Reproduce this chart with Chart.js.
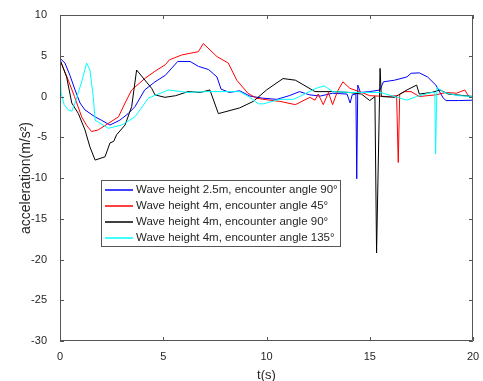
<!DOCTYPE html>
<html>
<head>
  <title>Acceleration vs time</title>
  <script src="https://cdn.jsdelivr.net/npm/chart.js"></script>
  <style>
    html, body { margin: 0; padding: 0; background: #fff; }
    #wrap { width: 483px; height: 381px; }
  </style>
</head>
<body>
<div id="wrap"><canvas id="accChart" width="483" height="381"></canvas></div>
<script>
  // values
  const seriesLabels = [
    'Wave height 2.5m, encounter angle 90°',
    'Wave height 4m, encounter angle 45°',
    'Wave height 4m, encounter angle 90°',
    'Wave height 4m, encounter angle 135°'
  ];
  const seriesColors = ['#0000ff', '#ff0000', '#000000', '#00ffff'];

  const blueT = [0, 0.24, 0.48, 0.73, 0.97, 1.21, 1.7, 2.0, 2.42, 2.9, 3.3, 3.63, 4.1, 4.6, 5.1, 5.7, 6.3, 6.7, 7.2, 7.6, 7.8, 8.2, 8.7, 9.2, 9.8, 10.5, 11.1, 11.6, 12.1, 12.6, 13.2, 13.9, 14.05, 14.15, 14.33, 14.37, 14.42, 14.55, 15.0, 15.5, 15.66, 16.2, 16.8, 17.0, 17.4, 17.8, 18.2, 18.56, 18.7, 19.3, 20];
  const blueV = [4.7, 4.1, 2.6, 0.8, -0.8, -1.65, -2.5, -2.9, -3.5, -2.9, -2.1, -1.25, 0.8, 1.8, 2.6, 4.3, 4.3, 3.7, 3.3, 2.4, 0.9, 0.5, 0.7, 0.05, -0.2, -0.35, 0.1, 0.6, 0.2, 0.05, 0.4, 0.3, -0.8, 0.2, 0.3, -10.1, 1.4, 0.5, 0.6, 0.8, 1.8, 2.0, 2.4, 2.85, 2.9, 2.4, 1.4, -0.2, -0.5, -0.5, -0.45];

  const redT = [0, 0.4, 0.7, 1.05, 1.3, 1.53, 1.85, 2.34, 2.83, 3.15, 3.47, 4.1, 4.6, 5.1, 5.3, 5.9, 6.3, 6.7, 6.94, 7.6, 8.15, 8.56, 9.1, 9.5, 10.0, 10.65, 11.4, 12.1, 12.35, 12.5, 12.75, 13.0, 13.2, 13.45, 13.7, 14.04, 14.5, 15.0, 15.8, 16.3, 16.38, 16.45, 16.7, 17.0, 17.4, 18.2, 18.7, 19.2, 19.6, 19.8, 20];
  const redV = [4.5, 2.0, 0.0, -2.5, -3.6, -4.3, -4.1, -3.3, -2.5, -0.8, 0.8, 2.2, 3.1, 3.9, 4.5, 5.1, 5.3, 5.5, 6.5, 4.9, 4.1, 2.0, 0.4, -0.2, -0.4, -0.6, -1.0, -0.1, -0.45, 0.3, -1.0, 0.5, -1.0, 0.7, 1.8, 1.0, 0.6, 0.1, 0.0, 0.1, -8.1, 0.3, 0.6, 0.6, 0.0, 0.2, 0.5, 0.4, 0.8, 0.0, 0.0];

  const blackT = [0, 0.32, 0.57, 0.89, 1.21, 1.45, 1.7, 2.18, 2.42, 2.6, 2.74, 3.15, 3.47, 3.71, 4.44, 4.6, 5.08, 5.6, 6.2, 6.8, 7.26, 7.67, 8.7, 9.36, 10.0, 10.8, 11.4, 12.35, 13.2, 14.0, 14.6, 15.0, 15.25, 15.33, 15.5, 15.56, 16.2, 16.8, 17.27, 17.4, 18.0, 18.4, 18.8, 20];
  const blackV = [4.5, 2.4, -0.8, -2.1, -4.1, -6.2, -7.8, -7.4, -5.7, -5.5, -4.7, -3.5, -1.25, 3.25, 1.0, 0.2, -0.1, 0.1, 0.6, 0.5, 0.8, -2.1, -1.4, -0.6, 0.8, 2.2, 2.0, 0.6, 0.6, 0.5, 0.3, -0.5, 0.0, -19.2, 3.45, 0.0, -0.1, 0.8, 1.4, 0.3, 0.5, 0.8, 0.3, 0.0];

  const cyanT = [0, 0.05, 0.2, 0.4, 0.57, 0.73, 1.05, 1.29, 1.45, 1.61, 1.7, 2.34, 2.99, 3.63, 4.28, 5.25, 6.2, 7.0, 8.0, 8.7, 9.2, 9.6, 9.85, 10.65, 11.3, 11.6, 12.4, 12.8, 13.2, 14.0, 15.5, 16.2, 16.8, 17.27, 18.0, 18.15, 18.19, 18.25, 18.6, 19.3, 20];
  const cyanV = [4.6, 0.5, -1.0, -1.65, -1.8, -0.8, 1.8, 4.1, 3.25, 0.0, -2.9, -3.9, -3.5, -2.5, -0.2, 0.8, 0.5, 0.6, 0.6, 0.6, -0.1, -0.9, -0.9, -0.35, -0.35, 0.0, 1.0, 1.3, 0.6, 0.5, 0.5, 0.0, -0.45, 0.0, 0.5, 0.5, -7.05, 1.1, 0.5, 0.1, 0.0];

  const xTicks = [0, 5, 10, 15, 20];
  const yTicks = [-30, -25, -20, -15, -10, -5, 0, 5, 10];

  const allT = [blueT, redT, blackT, cyanT];
  const allV = [blueV, redV, blackV, cyanV];

  const font = "'Liberation Sans', Arial, Helvetica, sans-serif";
  const axisGray = '#555555';
  const textGray = '#262626';

  const datasets = seriesLabels.map((label, i) => ({
    label: label,
    data: allT[i].map((t, j) => ({ x: t, y: allV[i][j] })),
    borderColor: seriesColors[i],
    borderWidth: 1,
    pointRadius: 0,
    fill: false,
    tension: 0
  }));
  // MATLAB draws later series on top
  datasets.forEach((d, i) => { d.order = datasets.length - i; });

  // box round the axes with inward tick marks on every side
  const boxTicks = {
    id: 'boxTicks',
    afterDatasetsDraw(chart) {
      const ctx = chart.ctx;
      const a = chart.chartArea;
      const xs = chart.scales.x, ys = chart.scales.y;
      ctx.save();
      ctx.strokeStyle = axisGray;
      ctx.lineWidth = 1;
      ctx.beginPath();
      ctx.rect(a.left + 0.5, a.top + 0.5, a.right - a.left - 1, a.bottom - a.top - 1);
      xTicks.forEach(v => {
        const px = Math.round(xs.getPixelForValue(v)) + 0.5;
        ctx.moveTo(px, a.bottom); ctx.lineTo(px, a.bottom - 4);
        ctx.moveTo(px, a.top); ctx.lineTo(px, a.top + 4);
      });
      yTicks.forEach(v => {
        const py = Math.round(ys.getPixelForValue(v)) + 0.5;
        ctx.moveTo(a.left, py); ctx.lineTo(a.left + 4, py);
        ctx.moveTo(a.right, py); ctx.lineTo(a.right - 4, py);
      });
      ctx.stroke();
      ctx.restore();
    }
  };

  // legend box inside the axes, lower left
  const boxLegend = {
    id: 'boxLegend',
    afterDraw(chart) {
      const ctx = chart.ctx;
      const x0 = 101, y0 = 180, w = 239, h = 66, rowH = 16;
      ctx.save();
      ctx.fillStyle = '#ffffff';
      ctx.fillRect(x0, y0, w, h);
      ctx.strokeStyle = axisGray;
      ctx.lineWidth = 1;
      ctx.strokeRect(x0 + 0.5, y0 + 0.5, w, h);
      ctx.font = '11.5px ' + font;
      ctx.textBaseline = 'middle';
      seriesLabels.forEach((label, i) => {
        const y = Math.round(y0 + 10 + i * rowH);
        ctx.strokeStyle = seriesColors[i];
        ctx.lineWidth = 1.5;
        ctx.beginPath();
        ctx.moveTo(105, y); ctx.lineTo(133, y);
        ctx.stroke();
        ctx.fillStyle = textGray;
        ctx.fillText(label, 136, y);
      });
      ctx.restore();
    }
  };

  new Chart(document.getElementById('accChart'), {
    type: 'line',
    data: { datasets: datasets },
    options: {
      responsive: false,
      animation: false,
      layout: { padding: { top: 15, right: 10, left: 0, bottom: 0 } },
      plugins: { legend: { display: false }, tooltip: { enabled: false } },
      scales: {
        x: {
          type: 'linear',
          min: 0, max: 20,
          afterBuildTicks(scale) { scale.ticks = xTicks.map(v => ({ value: v })); },
          afterFit(scale) { scale.height = 40; },
          grid: { display: false },
          border: { display: false },
          ticks: { color: textGray, font: { family: font, size: 11 }, padding: 1, maxRotation: 0 },
          title: { display: true, text: 't(s)', color: textGray, font: { family: font, size: 13 }, padding: { top: 0, bottom: -2 } }
        },
        y: {
          type: 'linear',
          min: -30, max: 10,
          afterBuildTicks(scale) { scale.ticks = yTicks.map(v => ({ value: v })); },
          afterFit(scale) { scale.width = 60; },
          grid: { display: false },
          border: { display: false },
          ticks: { color: textGray, font: { family: font, size: 11 }, padding: 5 },
          title: { display: true, text: 'acceleration(m/s²)', color: textGray, font: { family: font, size: 14 }, padding: { top: 18, bottom: 2 } }
        }
      }
    },
    plugins: [boxTicks, boxLegend]
  });
</script>
</body>
</html>
